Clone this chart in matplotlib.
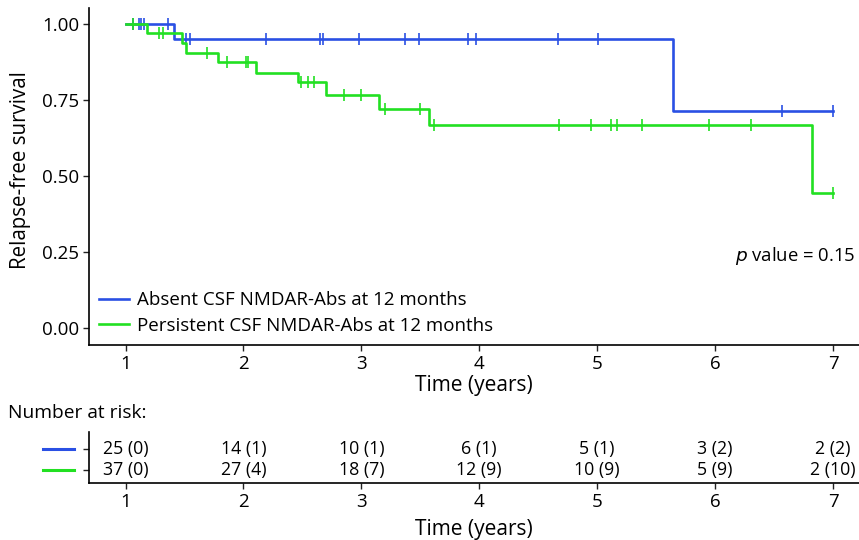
import matplotlib
matplotlib.use('Agg')
import matplotlib.pyplot as plt
from matplotlib.lines import Line2D
import matplotlib.transforms as mtransforms

plt.rcParams['font.family'] = ['Open Sans', 'DejaVu Sans']

# Kaplan-Meier steps (time in years, survival after the step)
absent_step_t = [1.0, 1.41, 5.64, 7.0]
absent_step_s = [1.0, 0.952, 0.714, 0.714]
absent_cens_t = [1.06, 1.11, 1.13, 1.16, 1.36, 1.51, 1.55, 2.19, 2.65, 2.675, 2.98,
                 3.37, 3.49, 3.90, 3.97, 4.67, 5.01, 6.57, 7.0]

persist_step_t = [1.0, 1.18, 1.48, 1.51, 1.78, 2.11, 2.46, 2.70, 3.15, 3.57, 6.82, 7.0]
persist_step_s = [1.0, 0.970, 0.937, 0.906, 0.875, 0.840, 0.808, 0.767, 0.719, 0.668,
                  0.445, 0.445]
persist_cens_t = [1.06, 1.28, 1.32, 1.69, 1.86, 2.02, 2.04, 2.49, 2.55, 2.60, 2.85,
                  3.00, 3.20, 3.50, 3.62, 4.68, 4.95, 5.12, 5.17, 5.38, 5.95, 6.30, 7.0]

risk_times = [1, 2, 3, 4, 5, 6, 7]
absent_risk = ['25 (0)', '14 (1)', '10 (1)', '6 (1)', '5 (1)', '3 (2)', '2 (2)']
persist_risk = ['37 (0)', '27 (4)', '18 (7)', '12 (9)', '10 (9)', '5 (9)', '2 (10)']

labels = ['Absent CSF NMDAR-Abs at 12 months', 'Persistent CSF NMDAR-Abs at 12 months']
blue = '#2a50e4'
green = '#22e022'


def surv_at(t, step_t, step_s):
    s = step_s[0]
    for tt, ss in zip(step_t, step_s):
        if tt <= t:
            s = ss
    return s


W, H = 859, 540
fig = plt.figure(figsize=(W / 100, H / 100), dpi=100)
ax = fig.add_axes([89 / W, 1 - 345 / H, (W - 89) / W, (345 - 8) / H])
axr = fig.add_axes([89 / W, 1 - 483 / H, (W - 89) / W, (483 - 432) / H])

for st, ss, ct, col, lab in [(absent_step_t, absent_step_s, absent_cens_t, blue, labels[0]),
                             (persist_step_t, persist_step_s, persist_cens_t, green, labels[1])]:
    ax.step(st, ss, where='post', color=col, lw=1.9, label=lab)
    ax.plot(ct, [surv_at(t, st, ss) for t in ct], ls='none', marker='|',
            ms=8, mew=1.2, color=col)

xlim = (0.69, 7.22)
ax.set_xlim(xlim)
ax.set_ylim(-0.056, 1.053)
ax.set_yticks([0, 0.25, 0.5, 0.75, 1.0])
ax.set_yticklabels(['0.00', '0.25', '0.50', '0.75', '1.00'])
ax.set_xticks(risk_times)
ax.tick_params(labelsize=13.5, length=4, width=1, color='#222222', pad=3)
for side in ['top', 'right']:
    ax.spines[side].set_visible(False)
for side in ['left', 'bottom']:
    ax.spines[side].set_linewidth(1.2)
ax.set_ylabel('Relapse-free survival', fontsize=14.8)
ax.yaxis.set_label_coords(-58 / 770, 0.52)
ax.set_xlabel('Time (years)', fontsize=15, labelpad=2)

ax.legend(loc='lower left', bbox_to_anchor=(0.0, 0.0), frameon=False, fontsize=13.5,
          handlelength=1.6, handletextpad=0.4, labelspacing=0.4, borderaxespad=0.15)
ax.text(0.995, 0.264, r'$p$ value = 0.15', transform=ax.transAxes, ha='right',
        va='center', fontsize=13.3)

# risk table
axr.set_xlim(xlim)
axr.set_ylim(-0.62, 1.8)
for x, a, p in zip(risk_times, absent_risk, persist_risk):
    axr.text(x, 1, a, ha='center', va='center', fontsize=12.8)
    axr.text(x, 0, p, ha='center', va='center', fontsize=12.8)
axr.set_yticks([0, 1])
axr.set_yticklabels(['', ''])
axr.set_xticks(risk_times)
axr.tick_params(labelsize=13.5, length=4, width=1, color='#222222', pad=3)
for side in ['top', 'right']:
    axr.spines[side].set_visible(False)
for side in ['left', 'bottom']:
    axr.spines[side].set_linewidth(1.2)
axr.set_xlabel('Time (years)', fontsize=15, labelpad=6)

tr = mtransforms.blended_transform_factory(axr.transAxes, axr.transData)
for yv, col in [(1, blue), (0, green)]:
    axr.add_line(Line2D([-0.06, -0.02], [yv, yv], transform=tr, color=col, lw=2.2,
                        clip_on=False))

fig.text(8 / W, 1 - 413 / H, 'Number at risk:', ha='left', va='center', fontsize=13.8)

fig.savefig('out.png', dpi=100)
